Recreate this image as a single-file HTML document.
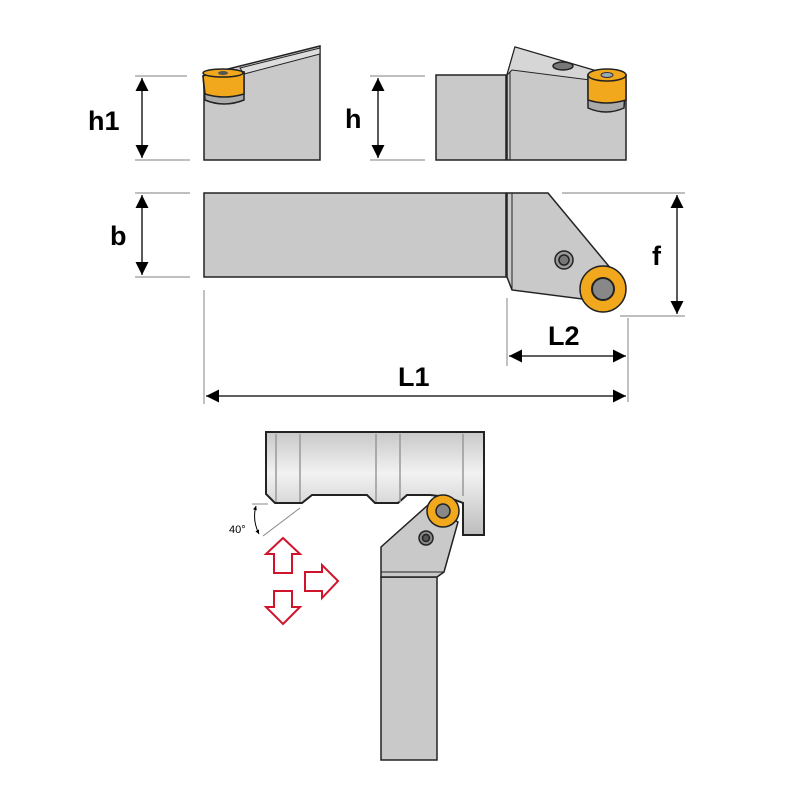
<!DOCTYPE html>
<html><head><style>body{margin:0;background:#fff}svg{display:block}</style></head><body>
<svg width="800" height="800" viewBox="0 0 800 800" xmlns="http://www.w3.org/2000/svg" font-family="Liberation Sans, sans-serif">
<defs>
<linearGradient id="wp" x1="0" y1="0" x2="0" y2="1"><stop offset="0" stop-color="#c8c8c8"/><stop offset="0.4" stop-color="#f2f2f2"/><stop offset="1" stop-color="#bdbdbd"/></linearGradient>
<marker id="ah" viewBox="0 0 10 10" refX="10" refY="5" markerWidth="22" markerHeight="13" orient="auto-start-reverse" markerUnits="userSpaceOnUse"><path d="M0,0L10,5L0,10z" fill="#000"/></marker>
<marker id="as" viewBox="0 0 10 10" refX="10" refY="5" markerWidth="6" markerHeight="4" orient="auto-start-reverse" markerUnits="userSpaceOnUse"><path d="M0,0L10,5L0,10z" fill="#000"/></marker>
</defs>
<g stroke="#999" stroke-width="1.2">
<line x1="135" y1="76" x2="187" y2="76"/><line x1="135" y1="160" x2="190" y2="160"/>
<line x1="135" y1="193" x2="190" y2="193"/><line x1="135" y1="277" x2="190" y2="277"/>
<line x1="370" y1="76" x2="425" y2="76"/><line x1="370" y1="160" x2="425" y2="160"/>
<line x1="562" y1="193" x2="685" y2="193"/><line x1="620" y1="316" x2="685" y2="316"/>
<line x1="507" y1="298" x2="507" y2="366"/><line x1="628" y1="318" x2="628" y2="402"/>
<line x1="204" y1="290" x2="204" y2="404"/>
</g>
<g stroke="#000" stroke-width="1.3">
<line x1="142" y1="78" x2="142" y2="158" marker-start="url(#ah)" marker-end="url(#ah)"/>
<line x1="142" y1="195" x2="142" y2="275" marker-start="url(#ah)" marker-end="url(#ah)"/>
<line x1="378" y1="78" x2="378" y2="158" marker-start="url(#ah)" marker-end="url(#ah)"/>
<line x1="677" y1="195" x2="677" y2="314" marker-start="url(#ah)" marker-end="url(#ah)"/>
<line x1="509" y1="356" x2="626" y2="356" marker-start="url(#ah)" marker-end="url(#ah)"/>
<line x1="206" y1="396" x2="626" y2="396" marker-start="url(#ah)" marker-end="url(#ah)"/>
</g>
<g font-weight="bold" font-size="27" fill="#000">
<text x="88" y="130">h1</text><text x="110" y="245">b</text><text x="345" y="128">h</text>
<text x="652" y="265">f</text><text x="548" y="345">L2</text><text x="398" y="386">L1</text>
</g>
<g stroke="#222" stroke-width="1.5" fill="#c9c9c9">
<path d="M204,75 L320,46 L320,160 L204,160 Z"/>
<path d="M240,68 L320,48 L320,54 L244,74 Z" fill="#ddd" stroke-width="1"/>
<path d="M203,76 Q222,68 244,72 L244,100 Q224,108 205,100 Z" fill="#aaa"/>
<path d="M203,76 Q222,68 244,72 L244,94 Q224,100 205,94 Z" fill="#f2a81c"/>
<ellipse cx="223" cy="73" rx="20" ry="4" fill="#f2a81c"/><ellipse cx="223" cy="73" rx="5" ry="2" fill="#555" stroke="none"/>
</g>
<g stroke="#222" stroke-width="1.5" fill="#c9c9c9">
<rect x="436" y="75" width="70" height="85"/>
<path d="M507,160 L507,75 L515,47 L600,72 L626,80 L626,160 Z"/>
<path d="M507,75 L515,47 L600,72 L590,80 L512,70 Z" fill="#d6d6d6" stroke-width="1"/>
<line x1="510" y1="72" x2="510" y2="160" stroke-width="1"/>
<ellipse cx="563" cy="66" rx="10" ry="4" fill="#777"/>
<path d="M588,75 L588,108 Q606,116 624,108 L626,75 Z" fill="#aaa"/>
<path d="M588,75 L588,100 Q606,106 626,100 L626,75 Z" fill="#f2a81c"/>
<ellipse cx="607" cy="75" rx="19" ry="6" fill="#f2a81c"/><ellipse cx="607" cy="75" rx="6" ry="2.5" fill="#9ab" stroke="#333" stroke-width="1"/>
</g>
<g stroke="#222" stroke-width="1.5" fill="#c9c9c9">
<rect x="204" y="193" width="302" height="84"/>
<path d="M507,193 L548,193 L612,270 L590,300 L512,290 L507,277 Z"/>
<line x1="512" y1="193" x2="512" y2="290" stroke-width="1"/>
<circle cx="564" cy="260" r="9" fill="#999"/><circle cx="564" cy="260" r="5" fill="#777"/>
<circle cx="603" cy="289" r="23" fill="#f2a81c"/>
<circle cx="603" cy="289" r="11" fill="#888" stroke-width="2"/>
</g>
<g stroke="#222" stroke-width="2">
<path d="M266,432 L484,432 L484,535 L463,535 L463,503 L447,497 L430,495 L407,495 L398,503 L375,503 L367,495 L312,495 L302,503 L275,503 L266,494 Z" fill="url(#wp)"/>
</g>
<g stroke="#999" stroke-width="1.5">
<line x1="276" y1="434" x2="276" y2="502"/><line x1="300" y1="434" x2="300" y2="502"/>
<line x1="376" y1="434" x2="376" y2="502"/><line x1="400" y1="434" x2="400" y2="502"/>
<line x1="463" y1="434" x2="463" y2="496"/>
</g>
<g stroke="#222" stroke-width="1.5" fill="#c9c9c9">
<rect x="381" y="577" width="56" height="183"/>
<path d="M381,577 L381,547 L428,505 L458,522 L444,572 L437,577 Z"/>
<line x1="381" y1="572" x2="444" y2="572" stroke-width="1"/>
<circle cx="426" cy="538" r="7" fill="#888"/><circle cx="426" cy="538" r="3.5" fill="#555"/>
<circle cx="443" cy="511" r="16" fill="#f2a81c"/>
<circle cx="443" cy="511" r="7" fill="#888" stroke-width="1.5"/>
</g>
<g stroke="#888" stroke-width="1">
<line x1="252" y1="504" x2="268" y2="504"/><line x1="263" y1="536" x2="300" y2="508"/>
</g>
<path d="M256,506 Q252,520 259,534" fill="none" stroke="#000" stroke-width="1" marker-start="url(#as)" marker-end="url(#as)"/>
<text x="229" y="533" font-size="11" fill="#000">40°</text>
<g fill="#fff" stroke="#d0142c" stroke-width="2" stroke-linejoin="miter">
<path d="M283,538 L300,554 L292,554 L292,573 L274,573 L274,554 L266,554 Z"/>
<path d="M283,624 L300,607 L292,607 L292,591 L274,591 L274,607 L266,607 Z"/>
<path d="M338,581 L322,565 L322,572 L305,572 L305,591 L322,591 L322,598 Z"/>
</g>
</svg>
</body></html>
